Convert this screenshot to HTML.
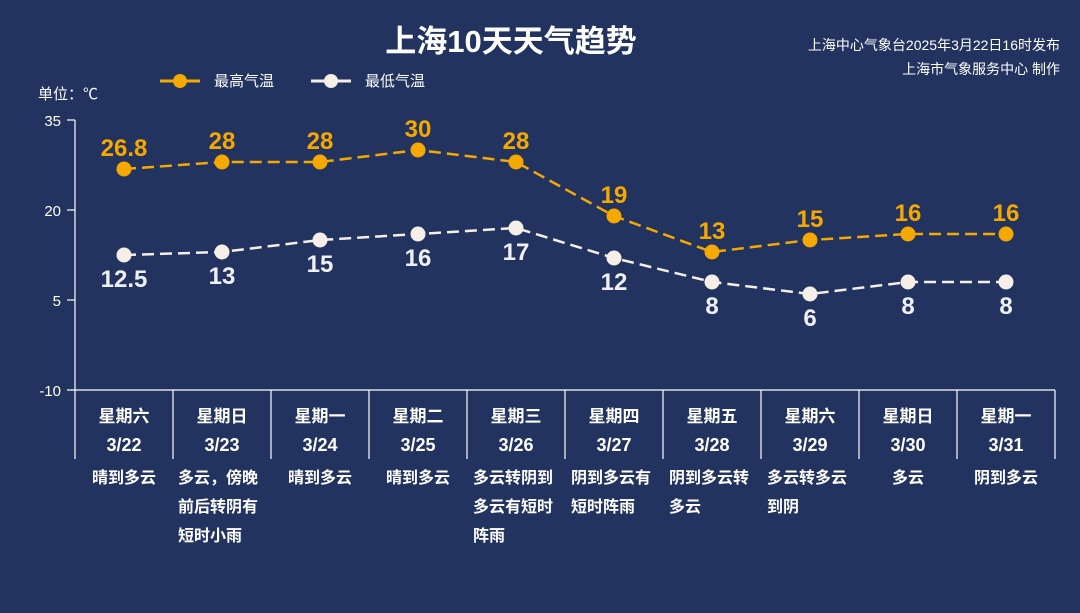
<!DOCTYPE html>
<html><head><meta charset="utf-8"><style>
html,body{margin:0;padding:0;background:#22335f;}
svg{display:block;font-family:"Liberation Sans","Noto Sans CJK SC",sans-serif;}
</style></head><body>
<svg width="1080" height="613" viewBox="0 0 1080 613" xmlns="http://www.w3.org/2000/svg">
<rect width="1080" height="613" fill="#22335f"/>
<text x="511" y="52" fill="#fff" font-size="31" font-weight="bold" text-anchor="middle">上海10天天气趋势</text>
<text x="1060" y="50" fill="#fff" font-size="14" text-anchor="end">上海中心气象台2025年3月22日16时发布</text>
<text x="1060" y="74" fill="#fff" font-size="14" text-anchor="end">上海市气象服务中心 制作</text>
<line x1="160" y1="81" x2="200" y2="81" stroke="#f5a800" stroke-width="3"/>
<circle cx="180" cy="81" r="7" fill="#f5a800"/>
<text x="214" y="86" fill="#fff" font-size="15">最高气温</text>
<line x1="311" y1="81" x2="351" y2="81" stroke="#f5efe8" stroke-width="3"/>
<circle cx="331" cy="81" r="7" fill="#f5efe8"/>
<text x="365" y="86" fill="#fff" font-size="15">最低气温</text>
<text x="38" y="99" fill="#fff" font-size="15">单位：℃</text>
<g fill="#fff" font-size="15" text-anchor="end">
<text x="61" y="126">35</text><text x="61" y="216">20</text><text x="61" y="306">5</text><text x="61" y="396">-10</text>
</g>
<g stroke="#fff" stroke-width="1.2">
<line x1="75" y1="120" x2="75" y2="390"/>
<line x1="67" y1="120" x2="75" y2="120"/><line x1="67" y1="210" x2="75" y2="210"/><line x1="67" y1="300" x2="75" y2="300"/>
<line x1="67" y1="390" x2="1055" y2="390"/>
<line x1="75" y1="390" x2="75" y2="459"/><line x1="173" y1="390" x2="173" y2="459"/><line x1="271" y1="390" x2="271" y2="459"/><line x1="369" y1="390" x2="369" y2="459"/><line x1="467" y1="390" x2="467" y2="459"/><line x1="565" y1="390" x2="565" y2="459"/><line x1="663" y1="390" x2="663" y2="459"/><line x1="761" y1="390" x2="761" y2="459"/><line x1="859" y1="390" x2="859" y2="459"/><line x1="957" y1="390" x2="957" y2="459"/><line x1="1055" y1="390" x2="1055" y2="459"/>
</g>
<polyline points="124,169 222,162 320,162 418,150 516,162 614,216 712,252 810,240 908,234 1006,234" fill="none" stroke="#f5a800" stroke-width="2.5" stroke-dasharray="12,6"/>
<polyline points="124,255 222,252 320,240 418,234 516,228 614,258 712,282 810,294 908,282 1006,282" fill="none" stroke="#f5efe8" stroke-width="2.5" stroke-dasharray="12,6"/>
<g fill="#f5a800">
<circle cx="124" cy="169" r="7.5"/><circle cx="222" cy="162" r="7.5"/><circle cx="320" cy="162" r="7.5"/><circle cx="418" cy="150" r="7.5"/><circle cx="516" cy="162" r="7.5"/><circle cx="614" cy="216" r="7.5"/><circle cx="712" cy="252" r="7.5"/><circle cx="810" cy="240" r="7.5"/><circle cx="908" cy="234" r="7.5"/><circle cx="1006" cy="234" r="7.5"/>
</g>
<g fill="#f5efe8">
<circle cx="124" cy="255" r="7.5"/><circle cx="222" cy="252" r="7.5"/><circle cx="320" cy="240" r="7.5"/><circle cx="418" cy="234" r="7.5"/><circle cx="516" cy="228" r="7.5"/><circle cx="614" cy="258" r="7.5"/><circle cx="712" cy="282" r="7.5"/><circle cx="810" cy="294" r="7.5"/><circle cx="908" cy="282" r="7.5"/><circle cx="1006" cy="282" r="7.5"/>
</g>
<g fill="#f5a800" font-size="24" font-weight="bold" text-anchor="middle">
<text x="124" y="156">26.8</text><text x="222" y="149">28</text><text x="320" y="149">28</text><text x="418" y="137">30</text><text x="516" y="149">28</text><text x="614" y="203">19</text><text x="712" y="239">13</text><text x="810" y="227">15</text><text x="908" y="221">16</text><text x="1006" y="221">16</text>
</g>
<g fill="#eef0f5" font-size="24" font-weight="bold" text-anchor="middle">
<text x="124" y="287">12.5</text><text x="222" y="284">13</text><text x="320" y="272">15</text><text x="418" y="266">16</text><text x="516" y="260">17</text><text x="614" y="290">12</text><text x="712" y="314">8</text><text x="810" y="326">6</text><text x="908" y="314">8</text><text x="1006" y="314">8</text>
</g>
<g fill="#fff" font-size="17" font-weight="bold" text-anchor="middle">
<text x="124" y="422">星期六</text><text x="222" y="422">星期日</text><text x="320" y="422">星期一</text><text x="418" y="422">星期二</text><text x="516" y="422">星期三</text><text x="614" y="422">星期四</text><text x="712" y="422">星期五</text><text x="810" y="422">星期六</text><text x="908" y="422">星期日</text><text x="1006" y="422">星期一</text>
</g>
<g fill="#fff" font-size="18" font-weight="bold" text-anchor="middle">
<text x="124" y="451">3/22</text><text x="222" y="451">3/23</text><text x="320" y="451">3/24</text><text x="418" y="451">3/25</text><text x="516" y="451">3/26</text><text x="614" y="451">3/27</text><text x="712" y="451">3/28</text><text x="810" y="451">3/29</text><text x="908" y="451">3/30</text><text x="1006" y="451">3/31</text>
</g>
<g fill="#fff" font-size="16" font-weight="bold">
<text x="92" y="483">晴到多云</text>
<text x="178" y="483">多云，傍晚</text><text x="178" y="512">前后转阴有</text><text x="178" y="541">短时小雨</text>
<text x="288" y="483">晴到多云</text>
<text x="386" y="483">晴到多云</text>
<text x="473" y="483">多云转阴到</text><text x="473" y="512">多云有短时</text><text x="473" y="541">阵雨</text>
<text x="571" y="483">阴到多云有</text><text x="571" y="512">短时阵雨</text>
<text x="669" y="483">阴到多云转</text><text x="669" y="512">多云</text>
<text x="767" y="483">多云转多云</text><text x="767" y="512">到阴</text>
<text x="908" y="483" text-anchor="middle">多云</text>
<text x="974" y="483">阴到多云</text>
</g>
</svg>
</body></html>
